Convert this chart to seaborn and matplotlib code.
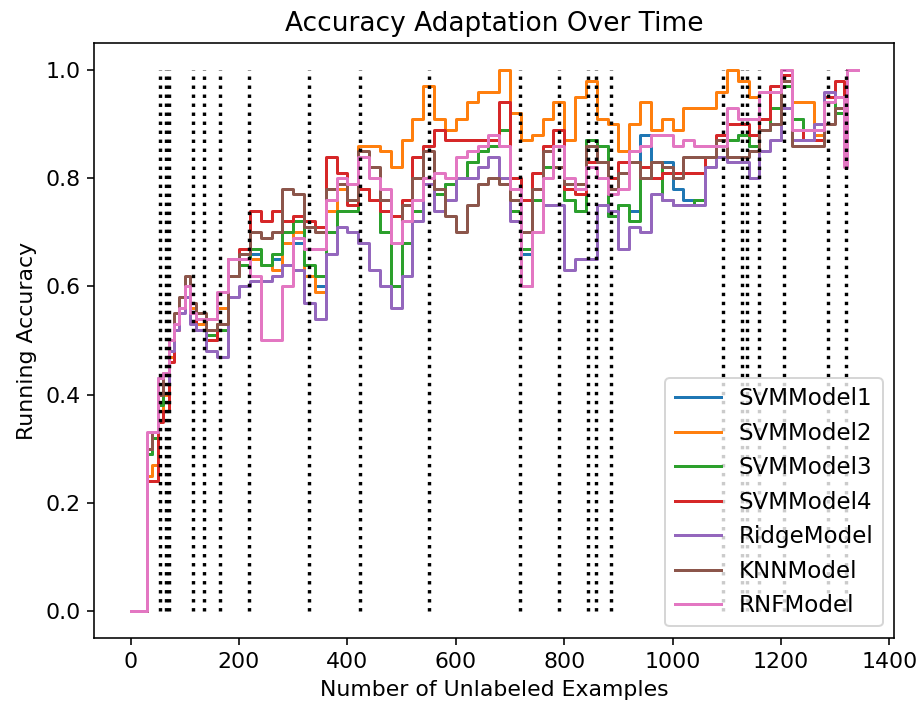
import numpy as np
import pandas as pd
import matplotlib
matplotlib.use("Agg")
import matplotlib.pyplot as plt
from matplotlib.lines import Line2D
import seaborn as sns

plt.rcParams["font.size"] = 11

models = ["SVMModel1", "SVMModel2", "SVMModel3", "SVMModel4", "RidgeModel", "KNNModel", "RNFModel"]

xs = [0, 30, 40, 50, 60, 70, 80, 90, 100, 110, 120, 140, 160, 180, 200, 220, 240, 260, 280, 300,
      320, 340, 360, 380, 400, 420, 440, 460, 480, 500, 520, 540, 560, 580, 600, 620, 640, 660, 680, 700,
      720, 740, 760, 780, 800, 820, 840, 860, 880, 900, 920, 940, 960, 980, 1000, 1020, 1040, 1060, 1080, 1100,
      1120, 1140, 1160, 1180, 1200, 1220, 1240, 1260, 1280, 1300, 1316, 1322, 1342]

svm1 = [0, 0.29, 0.32, 0.38, 0.42, 0.48, 0.53, 0.56, 0.60, 0.55, 0.52, 0.50, 0.52, 0.62, 0.64, 0.66, 0.64, 0.65, 0.70, 0.68,
        0.62, 0.60, 0.70, 0.74, 0.74, 0.78, 0.76, 0.70, 0.60, 0.68, 0.74, 0.79, 0.77, 0.79, 0.80, 0.83, 0.85, 0.86, 0.89, 0.74,
        0.66, 0.76, 0.82, 0.82, 0.76, 0.74, 0.87, 0.86, 0.73, 0.75, 0.74, 0.88, 0.83, 0.83, 0.78, 0.76, 0.76, 0.84, 0.87, 0.87,
        0.88, 0.86, 0.89, 0.93, 0.97, 0.91, 0.89, 0.89, 0.94, 0.92, 0.90, 1.0, 1.0]
svm2 = [0, 0.25, 0.27, 0.37, 0.40, 0.47, 0.53, 0.56, 0.60, 0.56, 0.53, 0.54, 0.56, 0.62, 0.64, 0.65, 0.64, 0.63, 0.68, 0.70,
        0.62, 0.59, 0.74, 0.78, 0.76, 0.86, 0.86, 0.85, 0.82, 0.87, 0.91, 0.97, 0.91, 0.89, 0.91, 0.94, 0.96, 0.96, 1.0, 0.92,
        0.87, 0.88, 0.91, 0.94, 0.87, 0.95, 0.98, 0.91, 0.90, 0.85, 0.90, 0.94, 0.89, 0.91, 0.89, 0.93, 0.93, 0.93, 0.96, 1.0,
        0.98, 0.95, 0.96, 0.96, 1.0, 0.94, 0.94, 0.88, 0.95, 0.95, 0.92, 1.0, 1.0]
svm3 = [0, 0.29, 0.32, 0.38, 0.42, 0.48, 0.53, 0.56, 0.60, 0.55, 0.52, 0.51, 0.52, 0.62, 0.64, 0.67, 0.64, 0.66, 0.70, 0.72,
        0.64, 0.62, 0.70, 0.74, 0.74, 0.78, 0.76, 0.70, 0.60, 0.68, 0.74, 0.79, 0.77, 0.79, 0.80, 0.83, 0.85, 0.86, 0.89, 0.74,
        0.67, 0.76, 0.82, 0.82, 0.76, 0.74, 0.87, 0.86, 0.73, 0.75, 0.72, 0.82, 0.83, 0.76, 0.75, 0.75, 0.76, 0.84, 0.87, 0.87,
        0.88, 0.86, 0.89, 0.93, 0.97, 0.91, 0.89, 0.89, 0.94, 0.92, 0.90, 1.0, 1.0]
svm4 = [0, 0.24, 0.24, 0.35, 0.37, 0.46, 0.52, 0.56, 0.60, 0.55, 0.52, 0.50, 0.53, 0.65, 0.67, 0.74, 0.72, 0.74, 0.72, 0.73,
        0.72, 0.71, 0.84, 0.81, 0.75, 0.78, 0.76, 0.74, 0.73, 0.76, 0.84, 0.86, 0.89, 0.87, 0.87, 0.87, 0.87, 0.87, 0.94, 0.80,
        0.76, 0.81, 0.86, 0.89, 0.78, 0.77, 0.83, 0.83, 0.80, 0.83, 0.83, 0.82, 0.80, 0.81, 0.81, 0.81, 0.81, 0.84, 0.88, 0.90,
        0.90, 0.88, 0.91, 0.97, 0.99, 0.89, 0.87, 0.87, 0.95, 0.98, 0.90, 1.0, 1.0]
ridge = [0, 0.30, 0.33, 0.43, 0.42, 0.48, 0.52, 0.55, 0.58, 0.53, 0.52, 0.48, 0.47, 0.58, 0.60, 0.61, 0.61, 0.62, 0.64, 0.63,
         0.57, 0.54, 0.66, 0.71, 0.70, 0.68, 0.63, 0.60, 0.56, 0.62, 0.72, 0.79, 0.74, 0.76, 0.80, 0.80, 0.82, 0.84, 0.80, 0.72,
         0.60, 0.70, 0.75, 0.75, 0.63, 0.65, 0.65, 0.75, 0.74, 0.67, 0.71, 0.70, 0.77, 0.76, 0.75, 0.75, 0.75, 0.82, 0.84, 0.83,
         0.83, 0.80, 0.85, 0.87, 0.93, 0.87, 0.87, 0.90, 0.96, 0.95, 0.92, 1.0, 1.0]
knn = [0, 0.30, 0.33, 0.40, 0.44, 0.50, 0.55, 0.58, 0.62, 0.57, 0.55, 0.52, 0.53, 0.62, 0.66, 0.70, 0.69, 0.70, 0.78, 0.77,
       0.71, 0.70, 0.78, 0.79, 0.76, 0.85, 0.82, 0.76, 0.68, 0.75, 0.80, 0.85, 0.78, 0.73, 0.70, 0.75, 0.79, 0.80, 0.79, 0.76,
       0.70, 0.78, 0.85, 0.82, 0.79, 0.79, 0.86, 0.83, 0.78, 0.81, 0.83, 0.80, 0.83, 0.82, 0.80, 0.84, 0.84, 0.84, 0.87, 0.84,
       0.84, 0.85, 0.89, 0.90, 0.98, 0.86, 0.86, 0.86, 0.90, 0.93, 0.90, 1.0, 1.0]
rnf = [0, 0.33, 0.33, 0.43, 0.44, 0.50, 0.53, 0.56, 0.60, 0.55, 0.54, 0.54, 0.59, 0.65, 0.65, 0.62, 0.50, 0.50, 0.60, 0.69,
       0.67, 0.67, 0.76, 0.80, 0.79, 0.84, 0.80, 0.78, 0.68, 0.72, 0.76, 0.80, 0.81, 0.80, 0.84, 0.85, 0.86, 0.88, 0.86, 0.78,
       0.60, 0.70, 0.80, 0.86, 0.80, 0.78, 0.82, 0.80, 0.77, 0.78, 0.85, 0.86, 0.88, 0.88, 0.86, 0.87, 0.86, 0.86, 0.86, 0.93,
       0.91, 0.91, 0.96, 0.96, 1.0, 0.89, 0.89, 0.89, 0.94, 0.95, 0.82, 1.0, 1.0]

drift_points = [55, 66, 71, 115, 136, 165, 219, 329, 424, 550, 718, 790, 844, 858, 887,
                1092, 1128, 1137, 1160, 1205, 1286, 1319]

series = [svm1, svm2, svm3, svm4, ridge, knn, rnf]
df = pd.concat([pd.DataFrame({"x": xs, "acc": s, "model": m}) for m, s in zip(models, series)],
               ignore_index=True)

palette = sns.color_palette("tab10", len(models))

fig = plt.figure(figsize=(917 / 144, 708 / 144), dpi=144)
ax = fig.add_axes([0.1028, 0.0989, 0.8725, 0.8404])

sns.lineplot(data=df, x="x", y="acc", hue="model", hue_order=models, palette=palette,
             drawstyle="steps-post", errorbar=None, legend=False, ax=ax, linewidth=1.5)

ax.vlines(drift_points, 0, 1, colors="black", linestyles=":", linewidth=1.7)

handles = [Line2D([0], [0], color=c, lw=1.5) for c in palette]
ax.legend(handles, models, loc="lower right", fontsize=11.5)

ax.set_title("Accuracy Adaptation Over Time")
ax.set_xlabel("Number of Unlabeled Examples")
ax.set_ylabel("Running Accuracy")
ax.set_xlim(-67, 1409)
ax.set_ylim(-0.05, 1.05)
ax.set_xticks([0, 200, 400, 600, 800, 1000, 1200, 1400])
ax.set_yticks([0.0, 0.2, 0.4, 0.6, 0.8, 1.0])

fig.savefig("out.png", dpi=144)
